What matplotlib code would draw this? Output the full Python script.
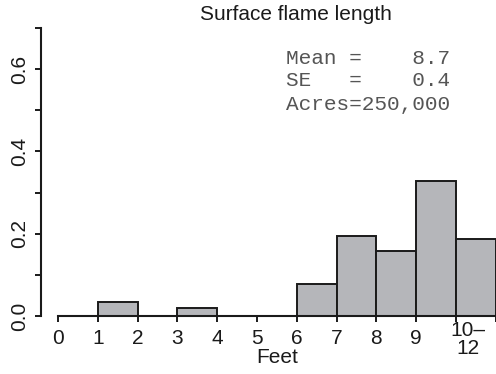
import matplotlib
matplotlib.use("Agg")
import matplotlib.pyplot as plt

# histogram bins (feet) and proportions
bin_left = [0, 1, 2, 3, 4, 5, 6, 7, 8, 9, 10]
proportion = [0.0, 0.034, 0.0, 0.019, 0.0, 0.0, 0.078, 0.195, 0.158, 0.328, 0.187]
xtick_labels = ['0', '1', '2', '3', '4', '5', '6', '7', '8', '9', '', '']
ytick_labels = ['0.0', '', '0.2', '', '0.4', '', '0.6', '']
stats_lines = ['Mean =    8.7', 'SE   =    0.4', 'Acres=250,000']

plt.rcParams['font.family'] = ['Liberation Sans', 'DejaVu Sans']

W, H = 496, 374
fig = plt.figure(figsize=(W / 100, H / 100), dpi=100)
ax = fig.add_axes([41 / W, (H - 316) / H, (496 - 41) / W, (316 - 28) / H])

ax.bar(bin_left, proportion, width=1.0, align='edge', color='#b5b6ba',
       edgecolor='#1a1a1a', linewidth=1.4, zorder=2)

ax.set_xlim(-0.43, 11.01)
ax.set_ylim(0, 0.7)

for s in ['top', 'right']:
    ax.spines[s].set_visible(False)
ax.spines['left'].set_bounds(0, 0.7)
ax.spines['bottom'].set_bounds(0, 11)
for s in ['left', 'bottom']:
    ax.spines[s].set_linewidth(1.5)
    ax.spines[s].set_color('#1a1a1a')

ax.set_xticks(range(12))
ax.set_xticklabels(xtick_labels)
ax.set_yticks([0.0, 0.1, 0.2, 0.3, 0.4, 0.5, 0.6, 0.7])
ax.set_yticklabels(ytick_labels)
ax.tick_params(axis='both', length=4.5, width=1.4, color='#1a1a1a',
               labelsize=15, labelcolor='#1a1a1a')
ax.tick_params(axis='x', pad=4.5)
ax.tick_params(axis='y', pad=4)
for lab in ax.get_yticklabels():
    lab.set_rotation(90)
    lab.set_va('center')

ax.text(10.3, -0.012, '10\u2013\n12', ha='center', va='top', fontsize=15,
        color='#1a1a1a', linespacing=0.95)
ax.text(5.5, -0.078, 'Feet', ha='center', va='top', fontsize=15, color='#1a1a1a')

fig.text(296 / W, 1 - 14 / H, 'Surface flame length', ha='center', va='center',
         fontsize=15, color='#1a1a1a')

for i, line in enumerate(stats_lines):
    fig.text(286 / W, 1 - (58 + 23 * i) / H, line, ha='left', va='center',
             fontsize=15.2, family='Liberation Mono', color='#555555')

fig.savefig('out.png', dpi=100)
